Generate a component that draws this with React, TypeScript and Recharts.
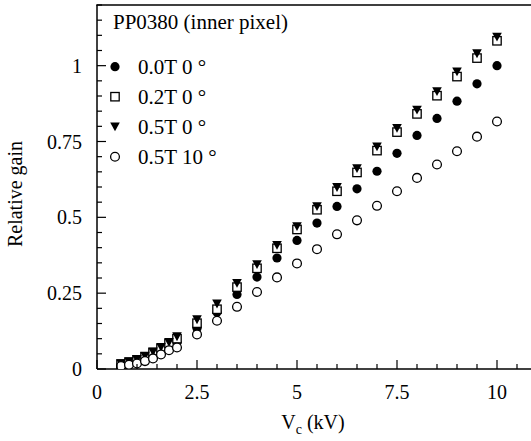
import React from 'react';
import { ScatterChart, Scatter, XAxis, YAxis, Legend } from 'recharts';

const FONT = '"Liberation Serif", "Times New Roman", Times, serif';

const voltages = [0.6, 0.8, 1.0, 1.2, 1.4, 1.6, 1.8, 2.0, 2.5, 3.0, 3.5, 4.0, 4.5, 5.0, 5.5, 6.0, 6.5, 7.0, 7.5, 8.0, 8.5, 9.0, 9.5, 10.0];
const gain00T0 = [0.012, 0.018, 0.024, 0.032, 0.044, 0.057, 0.071, 0.087, 0.134, 0.187, 0.246, 0.303, 0.366, 0.424, 0.481, 0.536, 0.594, 0.652, 0.711, 0.77, 0.826, 0.883, 0.94, 1.0];
const gain02T0 = [0.016, 0.022, 0.03, 0.04, 0.054, 0.068, 0.084, 0.1, 0.151, 0.197, 0.27, 0.332, 0.398, 0.46, 0.525, 0.586, 0.648, 0.72, 0.781, 0.841, 0.901, 0.964, 1.025, 1.082];
const gain05T0 = [0.018, 0.025, 0.032, 0.043, 0.057, 0.072, 0.088, 0.107, 0.163, 0.215, 0.283, 0.345, 0.408, 0.47, 0.536, 0.599, 0.661, 0.733, 0.794, 0.854, 0.915, 0.98, 1.04, 1.095];
const gain05T10 = [0.01, 0.014, 0.018, 0.026, 0.035, 0.048, 0.062, 0.071, 0.114, 0.159, 0.205, 0.254, 0.302, 0.348, 0.395, 0.444, 0.49, 0.538, 0.586, 0.63, 0.674, 0.718, 0.766, 0.816];

const seriesNames = ['0.0T 0 °', '0.2T 0 °', '0.5T 0 °', '0.5T 10 °'];
const seriesKinds = ['filledCircle', 'openSquare', 'filledTriangle', 'openCircle'];
const seriesValues = [gain00T0, gain02T0, gain05T0, gain05T10];

const title = 'PP0380 (inner pixel)';

const xMajorTicks = [0, 2.5, 5, 7.5, 10];
const xMinorStep = 0.5;
const xMax = 11;
const yMajorTicks = [0, 0.25, 0.5, 0.75, 1];
const yMinorStep = 0.05;
const yMax = 1.2;

const Y_AXIS_W = 97;
const TOP = 5;

const xTicks = Array.from({ length: Math.round(xMax / xMinorStep) + 1 }, (_, i) => +(i * xMinorStep).toFixed(3));
const yTicks = Array.from({ length: Math.round(yMax / yMinorStep) + 1 }, (_, i) => +(i * yMinorStep).toFixed(3));

const isIn = (v: number, arr: number[]) => arr.some((a) => Math.abs(a - v) < 1e-6);
const makeData = (vals: number[]) => voltages.map((x, i) => ({ x, y: vals[i] }));

const Marker = ({ kind, cx, cy }: { kind: string; cx: number; cy: number }) => {
  if (kind === 'filledCircle') return <circle cx={cx} cy={cy} r={4.6} fill="#000" />;
  if (kind === 'openSquare')
    return <rect x={cx - 4.2} y={cy - 4.2} width={8.4} height={8.4} fill="#fff" stroke="#000" strokeWidth={1.3} />;
  if (kind === 'filledTriangle')
    return <polygon points={`${cx - 4.8},${cy - 4.2} ${cx + 4.8},${cy - 4.2} ${cx},${cy + 4.6}`} fill="#000" />;
  return <circle cx={cx} cy={cy} r={4.4} fill="#fff" stroke="#000" strokeWidth={1.3} />;
};

const XTick = (props: any) => {
  const { x, y, payload } = props;
  const v = payload.value;
  const major = isIn(v, xMajorTicks);
  return (
    <g>
      <line x1={x} x2={x} y1={y} y2={y - (major ? 9 : 5)} stroke="#000" strokeWidth={1.2} />
      {major && (
        <text x={x} y={y + 30} textAnchor="middle" fontSize={20} fontFamily={FONT} fill="#000">
          {String(v)}
        </text>
      )}
    </g>
  );
};

const YTick = (props: any) => {
  const { x, y, payload } = props;
  const v = payload.value;
  const major = isIn(v, yMajorTicks);
  const top = Math.abs(v - yMax) < 1e-6;
  return (
    <g>
      {top && <rect x={x - 0.75} y={y - 0.75} width={460} height={1.5} fill="#000" />}
      <line x1={x} x2={x + (major ? 9 : 5)} y1={y} y2={y} stroke="#000" strokeWidth={1.2} />
      {major && (
        <text x={x - 15} y={y + 7} textAnchor="end" fontSize={20} fontFamily={FONT} fill="#000">
          {String(v)}
        </text>
      )}
    </g>
  );
};

const XLabel = (props: any) => {
  const vb = props.viewBox;
  const cx = vb.x + vb.width / 2 - 4;
  const y = vb.y + 60;
  return (
    <text x={cx} y={y} textAnchor="middle" fontSize={20} fontFamily={FONT} fill="#000">
      V<tspan fontSize={14} dy={5}>c</tspan>
      <tspan dy={-5}> (kV)</tspan>
    </text>
  );
};

const YLabel = (props: any) => {
  const vb = props.viewBox || {};
  const top = typeof vb.y === 'number' ? vb.y : TOP;
  const h = typeof vb.height === 'number' ? vb.height : 364;
  const cy = top + h / 2 + 7;
  const x = 22;
  return (
    <text x={x} y={cy} transform={`rotate(-90, ${x}, ${cy})`} textAnchor="middle" fontSize={20} fontFamily={FONT} fill="#000">
      Relative gain
    </text>
  );
};

const LegendContent = (props: any) => {
  const payload = props.payload || [];
  return (
    <svg width={240} height={170} style={{ display: 'block', overflow: 'visible' }}>
      <text x={8} y={18.5} fontSize={21} fontFamily={FONT} fill="#000">
        {title}
      </text>
      {payload.map((entry: any, i: number) => {
        const idx = seriesNames.indexOf(entry.value);
        const kind = seriesKinds[idx >= 0 ? idx : i];
        const cy = 56.7 + i * 30;
        return (
          <g key={i}>
            <Marker kind={kind} cx={10} cy={cy} />
            <text x={33} y={cy + 7} fontSize={21} fontFamily={FONT} fill="#000">
              {entry.value}
            </text>
          </g>
        );
      })}
    </svg>
  );
};

export default function App() {
  return (
    <div style={{ position: 'absolute', left: 0, top: 0, width: 531, height: 441, overflow: 'hidden', background: '#fff' }}>
      <ScatterChart width={545} height={441} margin={{ top: TOP, right: 8, bottom: 0, left: 0 }} style={{ overflow: 'visible' }}>
        <XAxis
          type="number"
          dataKey="x"
          domain={[0, xMax]}
          ticks={xTicks}
          interval={0}
          tickSize={0}
          tickMargin={0}
          tickLine={false}
          tick={<XTick />}
          axisLine={{ stroke: '#000', strokeWidth: 1.5 }}
          height={72}
          allowDataOverflow
          label={<XLabel />}
        />
        <YAxis
          type="number"
          dataKey="y"
          domain={[0, yMax]}
          ticks={yTicks}
          interval={0}
          tickSize={0}
          tickMargin={0}
          tickLine={false}
          tick={<YTick />}
          axisLine={{ stroke: '#000', strokeWidth: 1.5 }}
          width={Y_AXIS_W}
          allowDataOverflow
          label={<YLabel />}
        />
        {seriesValues.map((vals, i) => (
          <Scatter
            key={seriesNames[i]}
            name={seriesNames[i]}
            data={makeData(vals)}
            isAnimationActive={false}
            shape={(p: any) => <Marker kind={seriesKinds[i]} cx={p.cx} cy={p.cy} />}
          />
        ))}
        <Legend
          layout="vertical"
          align="center"
          verticalAlign="middle"
          wrapperStyle={{ left: 105, top: 10, width: 240, height: 170 }}
          content={<LegendContent />}
        />
      </ScatterChart>
    </div>
  );
}
